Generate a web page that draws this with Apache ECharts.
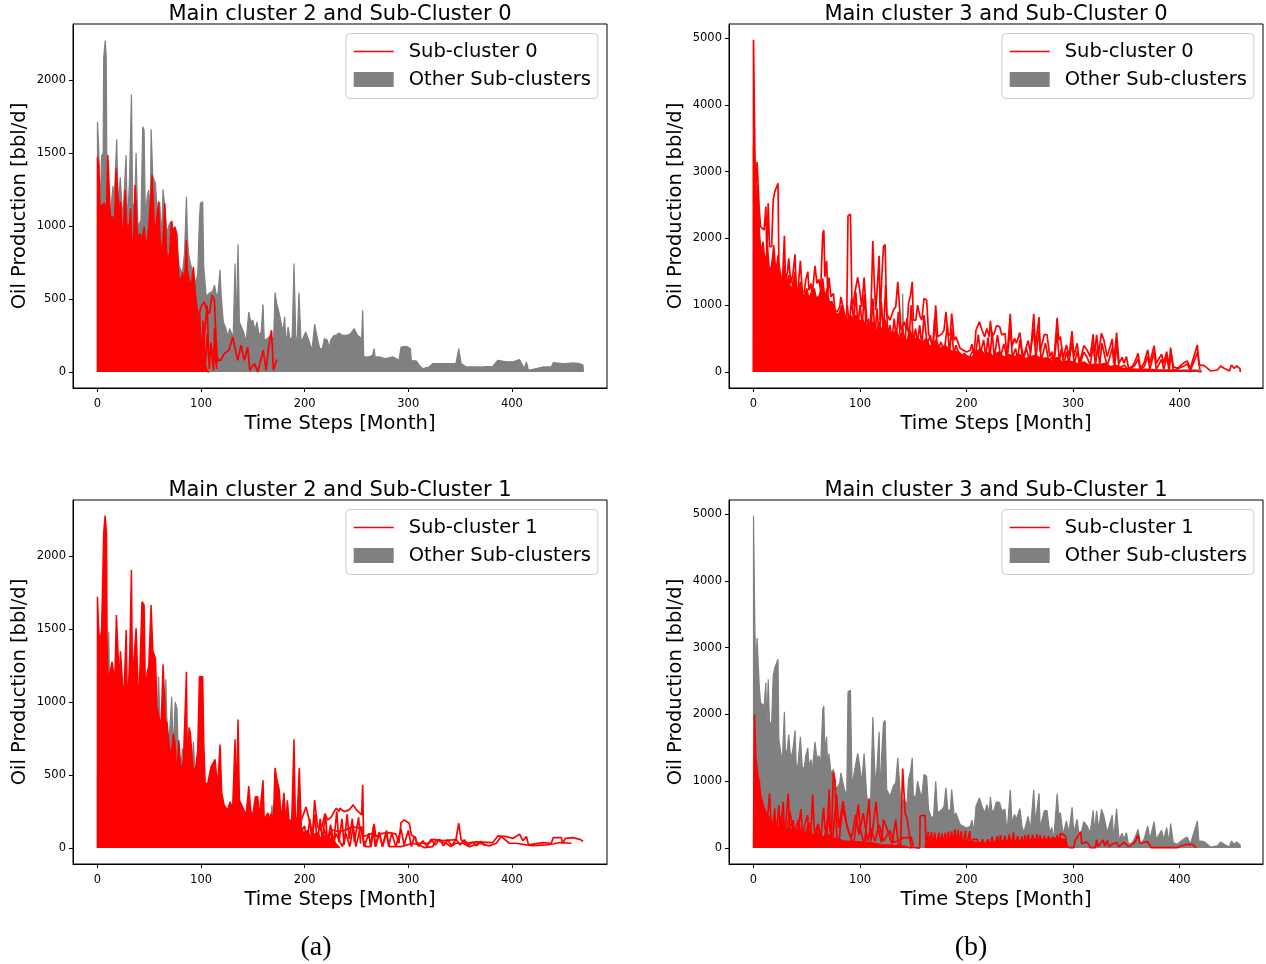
<!DOCTYPE html>
<html><head><meta charset="utf-8">
<style>html,body{margin:0;padding:0;background:#fff}#c{width:1266px;height:964px}</style>
<script src="https://cdn.jsdelivr.net/npm/echarts@6/dist/echarts.min.js"></script></head>
<body><div id="c"></div>
<script>
const xTicksA=[0,100,200,300,400];
const yTicksCluster2=[0,500,1000,1500,2000];
const yTicksCluster3=[0,1000,2000,3000,4000,5000];
const cluster2All=[[0,0],[0,1714],[1.3,1520],[2.6,1130],[4,1480],[5.5,1500],[6,2150],[7.5,2270],[8.5,2150],[9,1500],[11,1180],[12,1040],[15,1273],[16,1155],[17.5,1155],[18.6,1593],[20,1100],[22,1333],[23,1333],[24.5,1040],[27.6,1486],[29,994],[31,1333],[32.8,1900],[34,1150],[36,1150],[37.3,1500],[39,994],[42,1040],[43.7,1680],[45,1657],[46.3,1040],[48,1200],[49.5,1245],[51,1040],[51.8,1662],[53.4,1340],[56,1290],[58,1040],[60,1165],[62,925],[63.3,1250],[65,1130],[67,950],[69.5,1015],[72,1033],[73.5,950],[74.6,994],[76.5,950],[77.5,810],[79,720],[82,675],[84,810],[85.9,1200],[87,900],[88,810],[89,765],[92,675],[95,605],[96.8,675],[98.4,1040],[99.4,1155],[101.6,1165],[102.6,720],[105,515],[108,540],[111,550],[113,594],[115,515],[116.5,547],[118.3,700],[119.5,515],[121.5,342],[124,297],[126,240],[127.5,297],[131,240],[132.8,743],[134,297],[135.7,875],[137,342],[138.5,342],[141,274],[143.5,205],[146,411],[148,342],[150,354],[152,285],[154,342],[156,250],[158,274],[159.8,462],[161,217],[164,228],[167,251],[170,217],[171.4,544],[173,470],[175.5,400],[179,274],[180.7,377],[182,183],[184,309],[186,217],[188,240],[189.7,743],[191.5,217],[193,240],[194.5,542],[196.5,205],[198,217],[201,274],[204,217],[207,147],[209.6,327],[212,240],[214.5,160],[217,160],[219,228],[222,217],[223.5,160],[225,217],[228.4,251],[230.6,251],[233,267],[236.5,251],[241,251],[244.5,263],[247.7,297],[251,251],[255,228],[256,423],[257,103],[262,103],[265.5,114],[267,160],[268,103],[272,103],[278,91],[285,103],[291,80],[293,171],[298,176],[302,160],[303,80],[308,75],[310.6,46],[314,23],[320,34],[323.5,57],[333,57],[343,57],[346,57],[348.7,160],[351,57],[356,34],[369,34],[381.6,39],[386.5,80],[394.5,69],[401,69],[407.4,85],[412,23],[414,69],[416,11],[430,34],[438,34],[440,64],[449,57],[451.6,57],[459,62],[465.5,57],[468.7,46],[469,0]];
const cluster3All=[[0,0],[0,4975],[1.2,3400],[2,2675],[3.4,3145],[4.7,3145],[5.3,2450],[6.6,2175],[8.2,2150],[10,2125],[11.6,2475],[12.5,1775],[13.8,2525],[15,1875],[17,1875],[18.5,2575],[20,2700],[21.6,2700],[23,2825],[23.8,1625],[25.4,1625],[27,1275],[29,2040],[30,1375],[32,1500],[33,1700],[35,1325],[37,1475],[39,1760],[40,1275],[41.4,1175],[44,1665],[45.8,1200],[47.7,1200],[49,1375],[51,1500],[52,1225],[54,1325],[55,1125],[57.7,1590],[59.6,1325],[61.4,1385],[63,1225],[65,2075],[66,2125],[67,1425],[68.6,1665],[69.7,1175],[70.8,1415],[72.7,1125],[75,1175],[76.5,925],[78.4,900],[81,975],[82,1125],[83,1100],[85.3,875],[87.5,775],[88.7,2340],[91,2360],[92.5,925],[95,1175],[97.8,1415],[99.7,1225],[101.6,975],[103.8,1415],[105,1400],[106.3,775],[108.5,600],[110,775],[112,1960],[113.5,1275],[114.7,925],[116,1225],[117.9,1740],[118.9,775],[120.4,1425],[122,1875],[123.5,1910],[125,875],[128,775],[131.3,925],[133.5,975],[135.4,1350],[137,1375],[138.6,625],[141.4,750],[144,625],[145.5,1025],[147.4,1150],[149,1350],[150,775],[152.3,775],[154,1000],[156.4,825],[158,775],[160,1100],[162.5,1075],[164.3,575],[167,450],[169,475],[171,1000],[172.8,525],[176.9,575],[178.8,625],[180.6,900],[182.4,575],[184.7,550],[186,875],[188.4,475],[190,525],[191.5,550],[194,350],[197,325],[200,300],[203.4,325],[205,415],[207,250],[208.8,625],[212,750],[214.5,625],[217,525],[219,650],[221.4,525],[222.3,765],[224,530],[226,580],[228,690],[231,680],[233,555],[236,580],[238,230],[241,870],[242.6,380],[245,505],[246.7,430],[250,590],[252,330],[253.6,230],[257.7,470],[260,280],[263,870],[264.6,380],[268,820],[269,305],[273,560],[275.5,560],[278,230],[280,305],[281.8,130],[285,810],[286.5,480],[288,530],[290.6,205],[293.7,405],[296,230],[299,610],[300.6,230],[303.8,430],[306,130],[310,395],[313,330],[316,230],[318.8,565],[320,230],[322,555],[324,280],[326.6,580],[328.8,480],[332,230],[336.7,495],[338,130],[340.8,590],[343,130],[346,220],[347.6,130],[350,230],[352,55],[355.5,80],[358,155],[361,280],[363,55],[366.5,130],[370,330],[372,130],[376,395],[378,130],[383,265],[385,130],[387.8,305],[390,80],[391.5,365],[394,80],[397.8,55],[403.4,130],[407,165],[410,55],[416.6,405],[418,105],[423,95],[429,15],[435.4,30],[438.5,90],[441.7,55],[443,80],[446.7,15],[448.6,105],[451,55],[453.6,90],[456.7,45],[456.8,0]];
const otherMain3Sub0=[[0,0],[0,500],[74,500],[75,1000],[76,500],[107,400],[108,725],[109,400],[139.5,300],[140,1175],[141,300],[200,100],[350,30],[420,30],[421,0]];
const otherMain2Sub1=[[0,0],[0,500],[10,900],[10.9,1481],[12,900],[57,700],[59,1173],[61,700],[64,600],[66,1155],[68,600],[71.7,1036],[73,650],[75,1000],[76.8,955],[79,400],[82,681],[84,400],[90,400],[92.6,727],[95,400],[104,300],[106,441],[108,300],[166,120],[168.5,293],[170,100],[172,0]];
const sub0Fill=[[0,0],[0,1470],[1.3,1417],[2.6,1108],[4,1143],[6.8,1155],[8.4,1040],[10,1486],[11.6,1474],[12.5,1063],[14.8,1063],[16.4,994],[18,1394],[19.6,1406],[20.9,1108],[22.5,1166],[24,851],[26.7,1245],[28.3,1006],[30.9,1006],[32,1120],[33.8,777],[35,949],[36.3,1280],[38,1280],[38.9,903],[41,949],[43,903],[45,994],[47,834],[49.5,994],[52.7,1349],[54,1337],[55.3,926],[57,1040],[59,1166],[60.5,903],[62.5,811],[65,1155],[66.9,811],[69.5,788],[71.4,1033],[73,949],[74.6,994],[76.5,949],[78.5,651],[80.4,629],[82.3,681],[84,606],[85.9,903],[86.8,697],[88,651],[90.4,583],[92.6,720],[94.5,537],[96.8,400],[98,300],[100,160],[103,80],[106,0]];
const sub0LineA=[[98.4,400],[100,446],[103,480],[105.5,423],[108,400],[110.6,526],[112.9,491],[114.5,217],[116,80],[119,80],[122.5,126],[127,149],[130.5,240],[133,160],[135.4,80],[138.6,183],[141.8,80],[145,171],[147,11],[151.5,57],[154.7,0],[160,149],[162.7,11],[165,160],[168,286],[169.8,11],[173,85]];
const sub0LineB=[[95,400],[99,149],[101.6,126],[105.8,457],[107.4,126],[111,149],[114.5,57],[117.7,91]];
const sub0LineC=[[92,240],[98.4,34],[103,11],[108,0]];
const sub0LineD=[[94,500],[97,150],[98.5,420],[100.5,60],[102,350],[104,30],[106,260],[108,20],[109.5,200],[112,10],[113,300],[115,20]];
const sub1Fill=[[0,0],[0,1721],[1,1527],[2,1412],[3.5,1400],[4,1486],[5.7,1486],[6,2155],[7.4,2277],[8.7,2155],[9.3,1424],[10.3,1143],[12.2,1143],[14.1,1275],[15.4,1263],[16.7,1143],[18.3,1595],[19.9,1595],[21.2,1115],[22.2,1347],[23.8,1347],[25.4,994],[27.7,1493],[29,923],[31.2,1333],[32.8,1904],[33.8,1150],[35.7,1150],[37.3,1504],[38.6,1504],[39.9,949],[41.5,1347],[43,1687],[45,1664],[46.3,1056],[48,1200],[49.5,1245],[51.8,1664],[53.4,1351],[56,1298],[57.5,966],[59.2,966],[61.4,829],[63.3,1257],[64.6,1257],[65.6,880],[67.2,857],[69.5,680],[71.4,646],[73.3,784],[74.9,714],[76.5,485],[78.5,737],[80.7,521],[83,600],[85.9,1207],[86.8,510],[88.4,825],[89.7,785],[92,555],[94.5,532],[96.8,670],[98.4,1173],[101.6,1173],[102.6,714],[104,441],[106.4,441],[109.6,555],[113.5,606],[116,418],[118.3,709],[120,373],[122.3,293],[125.5,258],[128,315],[130.5,270],[132.8,745],[133.8,304],[135.7,880],[137,327],[140,281],[143.5,224],[146,423],[148,256],[149.5,210],[152.4,350],[154.7,350],[156.3,210],[159.8,464],[161,190],[164.4,240],[166,190],[167.5,235],[169.8,190],[171.4,549],[173,476],[175.5,395],[177.4,190],[180,377],[181.7,167],[183.3,327],[184.9,190],[187.5,190],[189.7,745],[191,213],[192.6,190],[194.8,549],[196.8,143],[199,100],[203,120],[206,60],[210,100],[214,60],[218,90],[222,50],[226,70],[230,30],[234,0]];
const sub1Top=[[196.8,190],[201.3,281],[204.5,190],[207.7,98],[209.6,327],[212.5,144],[215.8,121],[219.6,235],[222,190],[226,215],[228.4,249],[230.6,272],[233,249],[234,272],[238,249],[243,261],[246.8,295],[250,261],[255,226],[256,432],[256.8,78],[265.5,100],[267,165],[268.7,78],[275,100],[281.6,105],[288,96],[291,32],[293,174],[296,192],[301,169],[303,89],[306.8,73],[308,32],[314,32],[320,32],[324,59],[333,50],[343,55],[346,59],[348.7,169],[351,55],[356,32],[365.5,41],[381.6,37],[386.5,82],[394.5,78],[401,66],[407.4,94],[410.6,50],[414,78],[416,21],[430,37],[438,32],[440,71],[447.7,71],[449,32],[451.6,66],[459,71],[465.5,59],[468.7,46]];
const sub1Mid=[[223.5,78],[226.8,123],[233,112],[239.7,123],[246,146],[252.6,135],[255,146],[256.8,55],[259,9],[263.9,9],[266.5,112],[268.7,9],[272,100],[275,9],[279,100],[281.6,9],[288,9],[293,9],[299,21],[304,32],[310.6,21],[315.5,2],[323.5,9],[326.8,55],[336.5,32],[341,9],[346,32],[352.6,32],[359,9],[369,32],[378,14],[385,32],[389.7,78],[397.7,32],[404,32],[414,21],[420,16],[433,21],[439.7,27],[446,37],[457.4,32]];
const sub1Low=[[198,7],[201,80],[204,9],[207,100],[210,20],[213,110],[216,30],[219,130],[222,20],[225,115],[228,20],[230,100],[236.5,9],[239.7,100],[243.5,9],[246.8,146],[249.4,9],[254,146],[257.4,9],[262,100],[263.5,10],[266.5,150],[268,10],[272,110],[275,10],[279,120],[281,10],[284,100],[288,10],[293,130],[296,20],[300,120],[303,10],[306,80],[310,10],[314,50],[318,10],[322,60],[326,20],[330,60],[334,15],[338,55],[342,15],[346,60],[350,20],[354,55],[358,20],[362,40],[366,15],[370,45],[374,15]];
const sub1Edge=[[166,224],[174,212],[176,98],[182,30],[186,7],[190,121],[195,98],[200,150],[202,30],[205,200],[207,40],[210,230],[212,30],[215,200],[217,50],[220,230],[222,40],[225,160],[228,30],[231,250],[233,40],[236,200],[238,20],[241,230],[243,60],[246,200],[248,40],[252,210],[254,30]];
const main3Sub0Fill=[[0,0],[0,3400],[1.5,3000],[2.5,2400],[4,2800],[5.5,2100],[7,1800],[9,1950],[11,1600],[13,1900],[15,1500],[17,1600],[19,1900],[21,1500],[23,1750],[25,1350],[27,1400],[29,1600],[31,1300],[33,1450],[35,1200],[37,1350],[39,1500],[41,1150],[44,1350],[47,1120],[50,1250],[52,1100],[54,1180],[57,1250],[59,1100],[62,1150],[65,1400],[67,1100],[69,1250],[71,1050],[74,1050],[77,880],[80,860],[83,1000],[85,820],[88,780],[91,850],[93,790],[96,850],[100,760],[103,780],[106,640],[109,560],[112,750],[115,600],[118,750],[120,600],[123,800],[126,620],[130,560],[134,620],[137,500],[140,520],[144,470],[147,620],[150,480],[154,520],[158,430],[162,500],[165,400],[168,380],[171,480],[175,350],[180,400],[184,330],[188,300],[192,310],[196,250],[200,240],[205,220],[209,300],[213,350],[217,250],[221,300],[225,230],[230,300],[235,220],[240,260],[245,230],[250,260],[255,200],[260,230],[265,250],[270,200],[275,210],[280,160],[285,220],[290,140],[295,170],[300,150],[305,120],[310,150],[315,100],[320,120],[325,110],[330,130],[335,80],[340,100],[345,60],[350,50],[360,40],[370,40],[380,30],[390,25],[400,20],[415,15],[420,0]];
const main3Sub0Inner=[[88,1000],[90,700],[92,1100],[94,750],[96,1200],[98,700],[100,1000],[102,700],[104,1150],[106,550],[108,800],[110,500],[112,1100],[114,550],[116,950],[118,500],[120,1050],[122,550],[124,1300],[126,550],[128,700],[130,480],[132,800],[134,520],[136,900],[138,450],[140,650],[142,430],[144,800],[146,500],[148,1000],[150,430],[152,650],[154,450],[156,700],[158,380],[160,850],[163,420],[166,550],[168,330],[170,800],[173,320],[176,450],[179,300],[182,700],[184,280],[186,650],[188,260],[190,400],[194,220],[198,280],[202,200],[206,320],[208,220],[211,560],[213,280],[216,480],[218,220],[220,520],[222,230],[224,600],[226,200],[229,550],[232,230],[235,420],[238,190],[241,650],[243,220],[246,350],[248,180],[250,480],[253,170],[256,350],[259,180],[263,650],[265,200],[268,620],[270,170],[274,430],[277,170],[280,220],[282,110],[285,600],[287,150],[289,350],[291,120],[294,300],[296,130],[299,450],[301,110],[304,320],[306,90],[310,300],[313,220],[316,100],[319,420],[321,90],[323,400],[325,100],[327,430],[330,220],[332,90],[337,370],[339,70],[341,440],[343,60],[348,100],[352,30],[358,100],[361,200],[363,30],[367,90],[370,240],[372,40],[376,300],[378,40],[383,190],[385,40],[388,230],[390,20],[392,270],[394,20],[404,90],[407,120],[410,20],[417,300],[419,40]];
const main3Sub1Fill=[[0,0],[0.3,1000],[1,2000],[1.8,2000],[2.2,1350],[4,1350],[4.4,1050],[5.5,1000],[6.5,800],[8,720],[10,600],[12,520],[15,450],[18,350],[20,400],[23,300],[26,380],[30,280],[34,300],[38,240],[42,280],[46,200],[50,250],[55,190],[60,220],[65,160],[70,200],[75,150],[80,130],[85,100],[90,100],[100,90],[110,80],[120,50],[130,40],[140,30],[145,10],[148,0]];
const main3Sub1Band=[[161,0],[162,90],[172,100],[182,120],[192,130],[204,90],[218,70],[226,90],[240,110],[252,110],[262,130],[275,130],[285,150],[293,120],[294,0]];
const main3Sub1A=[[8,300],[12,200],[15,815],[17,200],[19,450],[20,590],[21,150],[23.8,640],[25,200],[27.9,690],[29,150],[31,500],[32.6,815],[34,300],[37.3,415],[39,100],[42,300],[44.5,580],[46,150],[48,350],[50.8,490],[52,120],[54,300],[55.5,805],[57,300],[58,100],[60.8,365],[63,100],[65,500],[65.8,605],[67,300],[69,200],[71,875],[72,300],[73,100],[75,1140],[76.5,1015],[78,200],[80,50],[83.4,590],[86,450],[90,200],[94,50],[98.4,655],[100,300],[104,40],[108.5,740],[110,100],[112,300],[115,690],[117,300],[120,80],[122,425],[125,300],[130,60],[133.5,425],[136,50],[138,30],[140,1190],[141.5,1190],[142.3,515],[144,450],[146.4,190],[148,10],[155,5]];
const main3Sub1B=[[3,700],[6,300],[10,500],[14,150],[18,400],[22,100],[26,480],[30,120],[34,550],[38,200],[42,420],[46,80],[52,380],[56,120],[60,340],[66,90],[70,480],[74,100],[78,800],[80,300],[84,700],[88,300],[92,160],[96,500],[99,200],[103,520],[107,100],[110,300],[114,100],[118,350],[122,100],[128,260],[132,80],[140,150],[148,160],[150,30]];
const main3Sub1C=[[153,0],[156,0],[156.4,480],[161,490],[162,20],[164,240],[165,20],[167,240],[169,20],[170,230],[172,30],[174,230],[175,30],[177,220],[178,40],[180,230],[181,30],[183,240],[184,30],[186,250],[187,30],[189,280],[190,40],[192,270],[193,30],[195,250],[196,20],[199,260],[200,20],[203,250],[204,20],[206,130],[210,130],[212,20],[215,130],[217,20],[220,130],[222,20],[224,170],[226,20],[229,180],[230,20],[232,190],[233,20],[236,180],[238,20],[240,200],[242,20],[244,230],[245,20],[248,180],[249,20],[252,170],[253,20],[255,190],[256,20],[258,200],[260,30],[262,200],[264,20],[266,210],[267,30],[269,190],[271,30],[273,180],[275,20],[277,180],[279,30],[281,170],[283,20],[285,190],[287,20],[288,220],[291,200],[293,170],[294,40],[296,5]];
const main3Sub1D=[[296,5],[300.6,5],[302,120],[304.4,170],[307,245],[308,70],[310,70],[312,95],[314,70],[316,5],[321,5],[322,120],[323.5,20],[325.7,70],[328,120],[329.8,30],[332,110],[333.8,20],[336.7,60],[340.8,80],[343,20],[347.6,85],[352,20],[357,70],[359,120],[361,195],[362.7,70],[369.6,95],[372,45],[373,5],[397.8,5],[401,30],[402.5,55],[407,55],[412,55],[413.5,35],[415.7,5]];

const RED='#ff0000',GRAY='#808080',INK='#000';
const FONT='"DejaVu Sans"';
const panels=[
 {t:'Main cluster 2 and Sub-Cluster 0',sub:'Sub-cluster 0',l:73,top:24,x:[-23.6,491.8],y:[-110,2383],yt:yTicksCluster2,gray:cluster2All,fills:[sub0Fill],lines:[sub0LineA,sub0LineB,sub0LineC,sub0LineD]},
 {t:'Main cluster 3 and Sub-Cluster 0',sub:'Sub-cluster 0',l:729,top:24,x:[-23,478.2],y:[-240,5210],yt:yTicksCluster3,gray:otherMain3Sub0,fills:[main3Sub0Fill],lines:[cluster3All,main3Sub0Inner]},
 {t:'Main cluster 2 and Sub-Cluster 1',sub:'Sub-cluster 1',l:73,top:500,x:[-23.6,491.8],y:[-110,2383],yt:yTicksCluster2,gray:otherMain2Sub1,fills:[sub1Fill],lines:[sub1Top,sub1Mid,sub1Low,sub1Edge]},
 {t:'Main cluster 3 and Sub-Cluster 1',sub:'Sub-cluster 1',l:729,top:500,x:[-23,478.2],y:[-240,5210],yt:yTicksCluster3,gray:cluster3All,fills:[main3Sub1Fill,main3Sub1Band],lines:[main3Sub1A,main3Sub1B,main3Sub1C,main3Sub1D]}
];
const W=534,H=364;
const plain=v=>String(v);
const grid=[],xAxis=[],yAxis=[],series=[],legend=[],title=[];
panels.forEach((p,i)=>{
 grid.push({left:p.l,top:p.top,width:W,height:H,show:true,borderColor:'#000',borderWidth:1,backgroundColor:'#fff'});
 const tick={show:true,length:4,lineStyle:{color:INK,width:1}};
 const base={gridIndex:i,type:'value',splitLine:{show:false},axisLine:{show:true,onZero:false,lineStyle:{color:INK,width:1}},nameLocation:'middle',nameTextStyle:{fontFamily:FONT,fontSize:19.5,color:INK}};
 xAxis.push(Object.assign({},base,{min:p.x[0],max:p.x[1],name:'Time Steps [Month]',nameGap:26,
   axisTick:Object.assign({customValues:xTicksA},tick),
   axisLabel:{customValues:xTicksA,formatter:plain,fontFamily:FONT,fontSize:11.5,color:INK,margin:10}}));
 yAxis.push(Object.assign({},base,{min:p.y[0],max:p.y[1],name:'Oil Production [bbl/d]',nameGap:43,
   axisTick:Object.assign({customValues:p.yt},tick),
   axisLabel:{customValues:p.yt,formatter:plain,fontFamily:FONT,fontSize:11.5,color:INK,margin:7}}));
 const common={xAxisIndex:i,yAxisIndex:i,type:'line',showSymbol:false,symbol:'none',animation:false,silent:true,clip:true};
 series.push(Object.assign({},common,{name:'Other Sub-clusters',data:p.gray,z:2,itemStyle:{color:GRAY},lineStyle:{color:GRAY,width:1.2},areaStyle:{color:GRAY,opacity:1}}));
 p.fills.forEach(d=>series.push(Object.assign({},common,{name:p.sub,data:d,z:3,itemStyle:{color:RED},lineStyle:{color:RED,width:1.5},areaStyle:{color:RED,opacity:1}})));
 p.lines.forEach(d=>series.push(Object.assign({},common,{name:p.sub,data:d,z:4,itemStyle:{color:RED},lineStyle:{color:RED,width:1.7}})));
 legend.push({show:true,selectedMode:false,orient:'vertical',left:p.l+273,top:p.top+9.5,itemWidth:40,itemHeight:15,itemGap:8,
   padding:[8,7,9,7],backgroundColor:'rgba(255,255,255,0.8)',borderColor:'#ccc',borderWidth:1,borderRadius:4,
   data:[{name:p.sub,itemStyle:{opacity:0},lineStyle:{color:RED,width:1.4}},{name:'Other Sub-clusters',icon:'rect',itemStyle:{color:GRAY,borderWidth:0}}],
   textStyle:{fontFamily:FONT,fontSize:19.5,color:INK,padding:[0,0,0,10]}});
 title.push({text:p.t,left:p.l+W/2,top:p.top-20,textAlign:'center',textStyle:{fontFamily:FONT,fontSize:21,fontWeight:'normal',color:INK},padding:0});
});
title.push({text:'(a)',left:316,top:934,textAlign:'center',padding:0,textStyle:{fontFamily:'"Liberation Serif"',fontSize:28,fontWeight:'normal',color:INK}});
title.push({text:'(b)',left:971,top:934,textAlign:'center',padding:0,textStyle:{fontFamily:'"Liberation Serif"',fontSize:28,fontWeight:'normal',color:INK}});
const chart=echarts.init(document.getElementById('c'),null,{renderer:'canvas',width:1266,height:964});
chart.setOption({animation:false,backgroundColor:'#fff',title,grid,xAxis,yAxis,legend,series,tooltip:{show:false}});
</script></body></html>
